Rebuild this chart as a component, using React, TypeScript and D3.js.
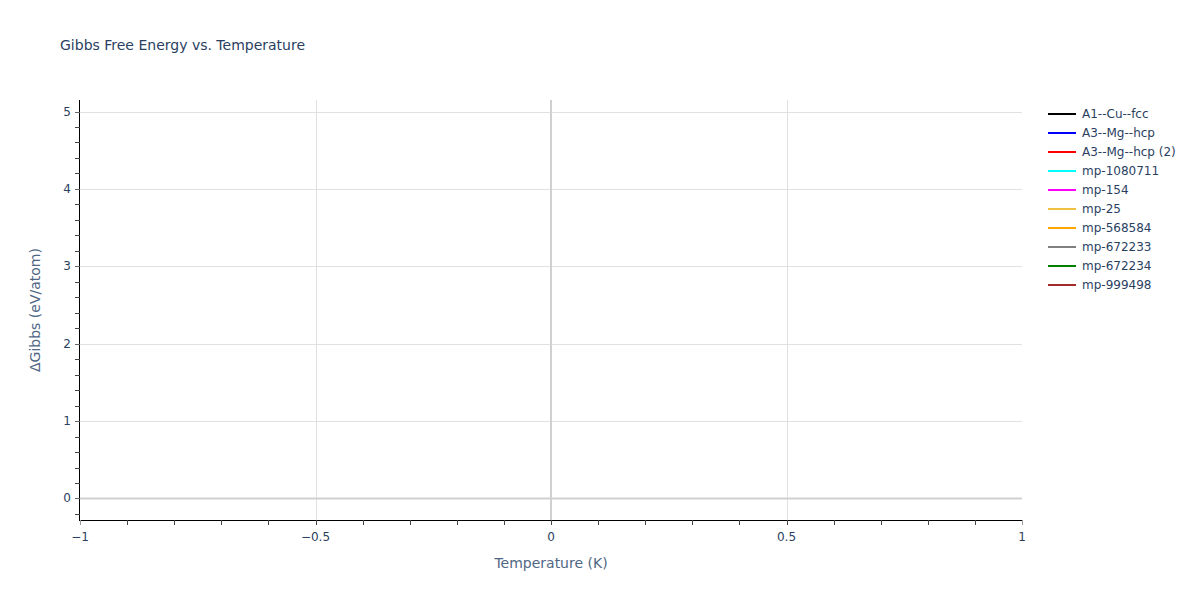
import React, { useEffect, useRef } from "react";
import * as d3 from "d3";

const seriesNames = [
  "A1--Cu--fcc",
  "A3--Mg--hcp",
  "A3--Mg--hcp (2)",
  "mp-1080711",
  "mp-154",
  "mp-25",
  "mp-568584",
  "mp-672233",
  "mp-672234",
  "mp-999498",
];
const seriesColors = [
  "black",
  "blue",
  "red",
  "cyan",
  "magenta",
  "#f0c040",
  "orange",
  "gray",
  "green",
  "brown",
];
const xDomain = [-1, 1];
const yDomain = [-0.278, 5.149];
const xMajor = [-1, -0.5, 0, 0.5, 1];
const xMinor = d3.range(-10, 11).map((i) => i / 10);
const yMajor = [0, 1, 2, 3, 4, 5];
const yMinor = d3.range(-1, 26).map((i) => i / 5);

const W = 1200;
const H = 600;
const margin = { left: 80, right: 178, top: 100, bottom: 80 };
const textColor = "#2a3f5f";
const font = "Verdana, 'DejaVu Sans', sans-serif";

export default function App() {
  const ref = useRef<SVGSVGElement>(null);

  useEffect(() => {
    const svg = d3.select(ref.current);
    svg.selectAll("*").remove();

    const x = d3.scaleLinear().domain(xDomain).range([margin.left, W - margin.right]);
    const y = d3.scaleLinear().domain(yDomain).range([H - margin.bottom, margin.top]);
    const x0 = margin.left, x1 = W - margin.right;
    const y0 = H - margin.bottom, y1 = margin.top;

    svg.append("rect").attr("width", W).attr("height", H).attr("fill", "white");

    // grid lines
    svg.append("g").selectAll("line")
      .data(yMajor.filter((d) => d !== 0))
      .enter().append("line")
      .attr("x1", x0).attr("x2", x1)
      .attr("y1", (d) => Math.round(y(d)) + 0.5).attr("y2", (d) => Math.round(y(d)) + 0.5)
      .attr("stroke", "#e1e1e1").attr("stroke-width", 1);
    svg.append("g").selectAll("line")
      .data(xMajor.filter((d) => d !== 0 && Math.abs(d) !== 1))
      .enter().append("line")
      .attr("y1", y0).attr("y2", y1)
      .attr("x1", (d) => Math.round(x(d)) + 0.5).attr("x2", (d) => Math.round(x(d)) + 0.5)
      .attr("stroke", "#e1e1e1").attr("stroke-width", 1);

    // zero lines
    svg.append("line")
      .attr("x1", x0).attr("x2", x1)
      .attr("y1", y(0)).attr("y2", y(0))
      .attr("stroke", "#d0d0d0").attr("stroke-width", 2);
    svg.append("line")
      .attr("y1", y0).attr("y2", y1)
      .attr("x1", x(0)).attr("x2", x(0))
      .attr("stroke", "#d0d0d0").attr("stroke-width", 2);

    // x axis
    const gx = svg.append("g");
    gx.append("line").attr("x1", x0 - 1).attr("x2", x1 + 1)
      .attr("y1", y0 + 0.5).attr("y2", y0 + 0.5).attr("stroke", "black");
    gx.selectAll("line.minor").data(xMinor).enter().append("line")
      .attr("class", "minor")
      .attr("x1", (d) => Math.round(x(d)) + 0.5).attr("x2", (d) => Math.round(x(d)) + 0.5)
      .attr("y1", y0).attr("y2", y0 + 5)
      .attr("stroke", (d) => (Math.abs(d) === 1 ? "#999" : "#444"));
    gx.selectAll("text").data(xMajor).enter().append("text")
      .attr("x", (d) => x(d)).attr("y", y0 + 21)
      .attr("text-anchor", "middle")
      .attr("font-size", 12).attr("font-family", font).attr("fill", textColor)
      .text((d) => (d < 0 ? "\u2212" + Math.abs(d) : String(d)));

    // y axis
    const gy = svg.append("g");
    gy.append("line").attr("x1", x0 - 0.5).attr("x2", x0 - 0.5)
      .attr("y1", y1).attr("y2", y0 + 1).attr("stroke", "black");
    gy.selectAll("line.minor").data(yMinor).enter().append("line")
      .attr("class", "minor")
      .attr("x1", x0 - 5).attr("x2", x0)
      .attr("y1", (d) => Math.round(y(d)) + 0.5).attr("y2", (d) => Math.round(y(d)) + 0.5)
      .attr("stroke", (d) => (yMajor.includes(d) ? "#666" : "#444"));
    gy.selectAll("text").data(yMajor).enter().append("text")
      .attr("x", x0 - 9).attr("y", (d) => y(d) + 4)
      .attr("text-anchor", "end")
      .attr("font-size", 12).attr("font-family", font).attr("fill", textColor)
      .text((d) => String(d));

    // titles
    svg.append("text").attr("x", 60).attr("y", 50)
      .attr("font-size", 14).attr("font-family", font).attr("fill", textColor)
      .text("Gibbs Free Energy vs. Temperature");
    svg.append("text").attr("x", (x0 + x1) / 2).attr("y", 568)
      .attr("text-anchor", "middle")
      .attr("font-size", 14).attr("font-family", font).attr("fill", "#506784")
      .text("Temperature (K)");
    svg.append("text")
      .attr("transform", `translate(40,${(y0 + y1) / 2}) rotate(-90)`)
      .attr("text-anchor", "middle")
      .attr("font-size", 14).attr("font-family", font).attr("fill", "#506784")
      .text("\u0394Gibbs (eV/atom)");

    // legend
    const lg = svg.append("g").attr("transform", "translate(1048,114)");
    const rows = lg.selectAll("g").data(seriesNames).enter().append("g")
      .attr("transform", (d, i) => `translate(0,${i * 19})`);
    rows.append("line").attr("x1", 0).attr("x2", 28).attr("y1", 0).attr("y2", 0)
      .attr("stroke", (d, i) => seriesColors[i]).attr("stroke-width", 2);
    rows.append("text").attr("x", 34).attr("y", 4)
      .attr("font-size", 12).attr("font-family", font).attr("fill", textColor)
      .text((d) => d);
  }, []);

  return <svg ref={ref} width={W} height={H} style={{ display: "block", position: "absolute", left: 0, top: 0 }} />;
}
